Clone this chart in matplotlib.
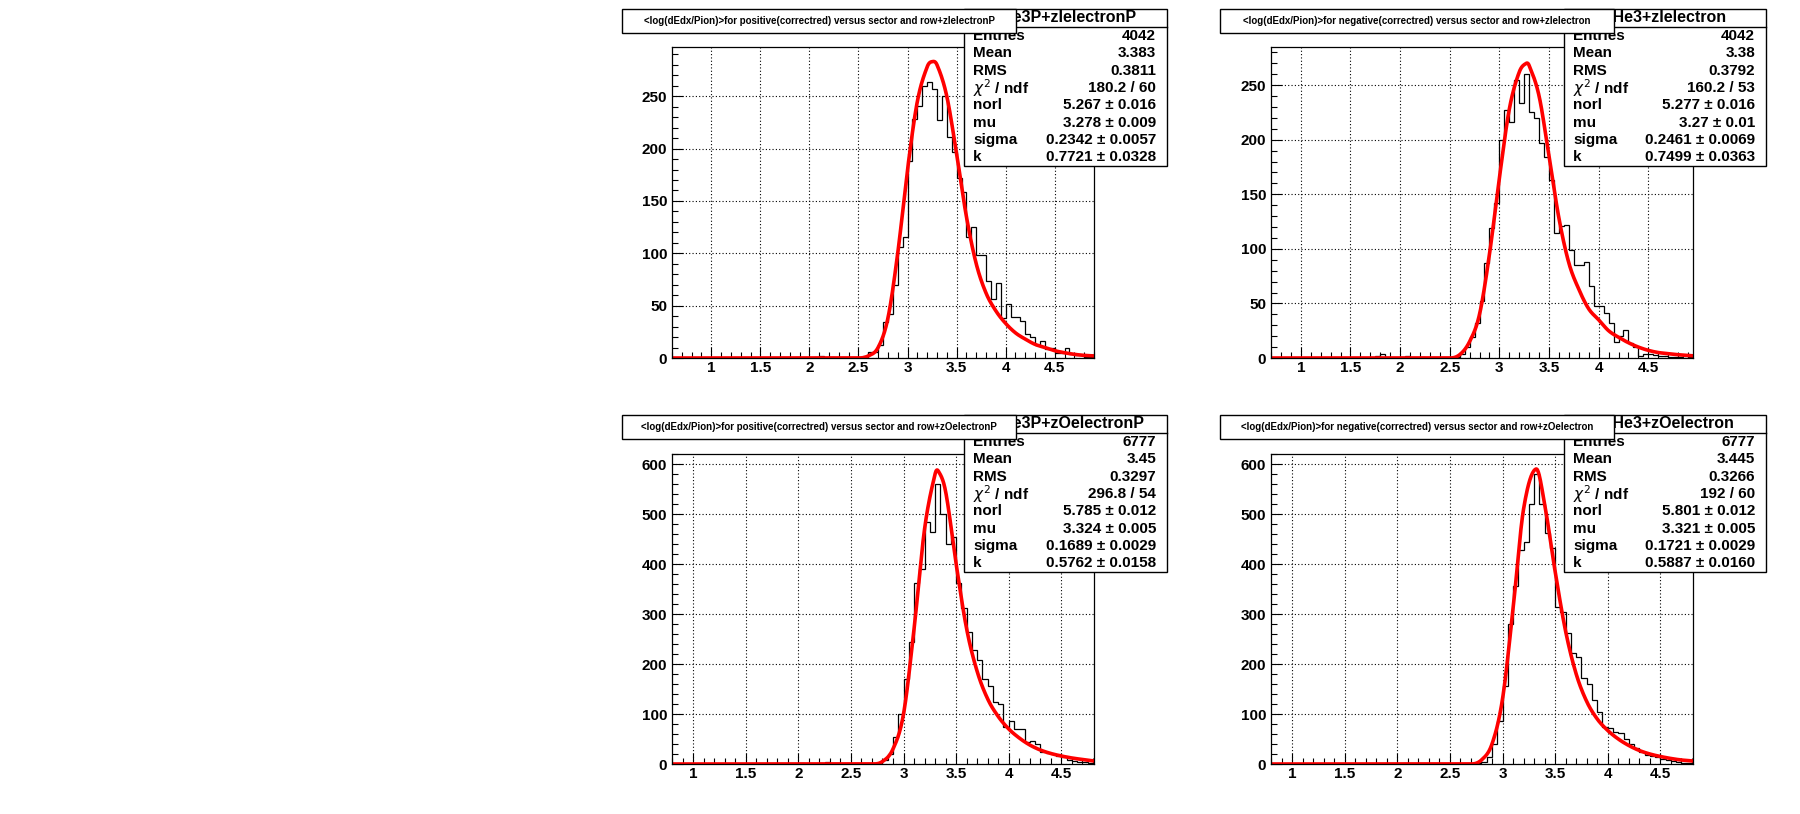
import numpy as np
import matplotlib
matplotlib.use("Agg")
import matplotlib.pyplot as plt
from matplotlib.patches import Rectangle
from matplotlib.ticker import MultipleLocator

plt.rcParams['font.family'] = ['Liberation Sans', 'DejaVu Sans']

BW = 0.05
# ---- histogram data (counts per 0.05 bin, starting at given x) ----
h1_start = 1.70
h1 = [1,1,0,1,0,0,0,1,2,0,1,0,0,0,0,0,1,2,6,6,12,34,42,70,106,116,188,228,241,260,264,257,227,250,211,197,
      172,159,116,125,98,98,74,56,72,38,52,39,39,35,23,20,12,16,9,10,5,5,10,4,3,3,1,1]
h2_start = 1.75
h2 = [2,4,1,0,0,1,2,0,0,1,0,0,0,0,0,1,1,4,10,19,32,52,87,119,142,200,227,216,255,234,260,225,220,197,184,
      163,115,121,122,99,85,85,88,66,48,48,41,32,15,20,26,14,10,2,4,4,3,2,2,1,1,1,2,1]
h3_start = 2.00
h3 = [2,1,0,1,2,4,3,2,1,1,1,0,1,1,2,2,8,20,55,100,170,245,362,390,485,465,560,500,440,455,362,312,265,228,
      208,170,157,125,120,75,87,70,70,45,47,40,25,22,20,17,15,8,7,5,5,3]
h4_start = 2.05
h4 = [2,1,0,0,0,0,0,0,0,0,0,0,0,0,2,5,15,40,87,157,280,357,428,445,520,580,520,462,433,315,305,262,222,215,
      172,160,128,105,75,72,65,62,50,40,32,25,18,17,15,10,8,6,4,3,2]

# ---- fit curves ----
f1_x = [0.6,2.5,2.6,2.7,2.8,2.9,3.0,3.1,3.2,3.25,3.3,3.4,3.5,3.6,3.7,3.8,3.9,4.0,4.1,4.2,4.3,4.4,4.5,4.6,4.7,4.8,4.9]
f1_y = [0,0,2,10,38,100,180,245,278,283,280,250,195,135,90,62,45,33,24,18,13,10,7,5,3.5,2.5,2]
f2_x = [0.7,2.5,2.6,2.7,2.8,2.9,3.0,3.1,3.2,3.27,3.3,3.4,3.5,3.6,3.7,3.8,3.9,4.0,4.1,4.2,4.3,4.4,4.5,4.6,4.7,4.8,4.95]
f2_y = [0,0,3,15,40,95,165,228,262,270,268,240,185,128,87,63,45,35,25,19,14,10,7,5,4,3,2]
f3_x = [0.8,2.7,2.8,2.9,3.0,3.1,3.2,3.3,3.33,3.4,3.5,3.6,3.7,3.8,3.9,4.0,4.1,4.2,4.3,4.4,4.5,4.6,4.7,4.81]
f3_y = [0,0,5,30,100,270,470,580,586,545,400,270,185,130,95,70,52,38,28,21,16,12,9,6]
f4_x = [0.8,2.7,2.8,2.9,3.0,3.1,3.2,3.32,3.4,3.5,3.6,3.7,3.8,3.9,4.0,4.1,4.2,4.3,4.4,4.5,4.6,4.7,4.81]
f4_y = [0,0,8,40,130,310,510,590,520,385,265,180,125,90,67,50,37,27,20,15,11,8,6]

titles = ["<log(dEdx/Pion)>for positive(correctred) versus sector and row+zIelectronP",
          "<log(dEdx/Pion)>for negative(correctred) versus sector and row+zIelectron",
          "<log(dEdx/Pion)>for positive(correctred) versus sector and row+zOelectronP",
          "<log(dEdx/Pion)>for negative(correctred) versus sector and row+zOelectron"]
stat_heads = ["He3P+zIelectronP", "zIHe3+zIelectron", "He3P+zOelectronP", "OHe3+zOelectron"]
stat_labels = ["Entries", "Mean", "RMS", r"$\chi^{2}$ / ndf", "norl", "mu", "sigma", "k"]
stats = [["4042","3.383","0.3811","180.2 / 60","5.267 \u00b1 0.016","3.278 \u00b1 0.009","0.2342 \u00b1 0.0057","0.7721 \u00b1 0.0328"],
         ["4042","3.38","0.3792","160.2 / 53","5.277 \u00b1 0.016","3.27 \u00b1 0.01","0.2461 \u00b1 0.0069","0.7499 \u00b1 0.0363"],
         ["6777","3.45","0.3297","296.8 / 54","5.785 \u00b1 0.012","3.324 \u00b1 0.005","0.1689 \u00b1 0.0029","0.5762 \u00b1 0.0158"],
         ["6777","3.445","0.3266","192 / 60","5.801 \u00b1 0.012","3.321 \u00b1 0.005","0.1721 \u00b1 0.0029","0.5887 \u00b1 0.0160"]]

W, H = 1800, 814
fig = plt.figure(figsize=(18, 8.14), dpi=100)

def fx(p): return p / W
def fy(p): return 1 - p / H

panels = [
    dict(ax=(672, 1094, 47, 358), xl=(0.6, 4.9), yl=(0, 297), ymaj=50, ymin=10, title=(622, 1016, 9, 33),
         stat=(964, 1167, 9, 166), h=(h1_start, h1), f=(f1_x, f1_y)),
    dict(ax=(1271, 1693, 47, 358), xl=(0.7, 4.95), yl=(0, 285), ymaj=50, ymin=10, title=(1220, 1614, 9, 33),
         stat=(1564, 1766, 9, 166), h=(h2_start, h2), f=(f2_x, f2_y)),
    dict(ax=(672, 1094, 454, 764), xl=(0.8, 4.81), yl=(0, 620), ymaj=100, ymin=20, title=(622, 1016, 415, 439),
         stat=(964, 1167, 415, 572), h=(h3_start, h3), f=(f3_x, f3_y)),
    dict(ax=(1271, 1693, 454, 764), xl=(0.8, 4.81), yl=(0, 620), ymaj=100, ymin=20, title=(1220, 1614, 415, 439),
         stat=(1564, 1766, 415, 572), h=(h4_start, h4), f=(f4_x, f4_y)),
]

def smooth(xs, ys, n=20):
    xs = np.asarray(xs, float); ys = np.asarray(ys, float)
    N = len(xs)
    def slope(j):
        if ys[j] == 0 and (j == 0 or ys[j-1] == 0):
            return 0.0
        a, b = max(j-1, 0), min(j+1, N-1)
        return (ys[b] - ys[a]) / (xs[b] - xs[a])
    ox, oy = [], []
    for i in range(N - 1):
        x0, x1 = xs[i], xs[i + 1]
        y0, y1 = ys[i], ys[i + 1]
        m0, m1 = slope(i), slope(i + 1)
        if y0 == 0 and y1 == 0:
            m0 = m1 = 0
        t = np.linspace(0, 1, n, endpoint=False)
        h = x1 - x0
        h00 = 2*t**3 - 3*t**2 + 1; h10 = t**3 - 2*t**2 + t
        h01 = -2*t**3 + 3*t**2; h11 = t**3 - t**2
        ox.extend(x0 + t*h)
        oy.extend(h00*y0 + h10*h*m0 + h01*y1 + h11*h*m1)
    ox.append(xs[-1]); oy.append(ys[-1])
    return np.array(ox), np.maximum(np.array(oy), 0)

for k, p in enumerate(panels):
    l, r, t, b = p['ax']
    ax = fig.add_axes([fx(l), fy(b), fx(r) - fx(l), (b - t) / H])
    start, vals = p['h']
    edges = start + BW * np.arange(len(vals) + 1)
    ax.stairs(vals, edges, color='black', linewidth=0.9)
    cx, cy = smooth(*p['f'])
    ax.plot(cx, cy, color='#ff0000', linewidth=2.6, solid_capstyle='round')
    ax.set_xlim(*p['xl']); ax.set_ylim(*p['yl'])
    ax.xaxis.set_major_locator(MultipleLocator(0.5))
    ax.xaxis.set_minor_locator(MultipleLocator(0.1))
    ax.yaxis.set_major_locator(MultipleLocator(p['ymaj']))
    ax.yaxis.set_minor_locator(MultipleLocator(p['ymin']))
    ax.tick_params(which='both', direction='in', top=False, right=False, labelsize=11)
    ax.tick_params(which='major', length=8, width=0.8)
    ax.tick_params(which='minor', length=4, width=0.8)
    ax.tick_params(axis='x', pad=2)
    ax.xaxis.set_major_formatter(matplotlib.ticker.FuncFormatter(lambda v, _: f"{v:g}"))
    for lab in ax.get_xticklabels() + ax.get_yticklabels():
        lab.set_fontweight('bold')
    ax.grid(True, which='major', linestyle=(0, (1, 2)), color='black', linewidth=0.8)
    for s in ax.spines.values():
        s.set_linewidth(0.9)

    # stats box
    sl, sr, st, sb = p['stat']
    fig.patches.append(Rectangle((fx(sl), fy(sb)), fx(sr) - fx(sl), (sb - st) / H, transform=fig.transFigure,
                                 facecolor='white', edgecolor='black', linewidth=1.0, zorder=5))
    fig.lines.append(plt.Line2D([fx(sl), fx(sr)], [fy(st + 18), fy(st + 18)], transform=fig.transFigure,
                                color='black', linewidth=1.0, zorder=6))
    tl, tr, tt, tb = p['title']
    fig.text(fx(tr - 14), fy(st + 8.5), stat_heads[k], ha='left', va='center', fontsize=11.5,
             fontweight='bold', zorder=7)
    rowh = (sb - st - 18) / 8.0
    for i, (lab, val) in enumerate(zip(stat_labels, stats[k])):
        yy = st + 19 + rowh * (i + 0.45)
        fig.text(fx(sl + 9), fy(yy), lab, ha='left', va='center', fontsize=11, fontweight='bold', zorder=7)
        fig.text(fx(sr - 11), fy(yy), val, ha='right', va='center', fontsize=11, fontweight='bold', zorder=7)
    # title box
    fig.patches.append(Rectangle((fx(tl), fy(tb)), fx(tr) - fx(tl), (tb - tt) / H, transform=fig.transFigure,
                                 facecolor='white', edgecolor='black', linewidth=1.0, zorder=8))
    fig.text(fx((tl + tr) / 2), fy((tt + tb) / 2), titles[k], ha='center', va='center', fontsize=7,
             fontweight='semibold', zorder=9)

fig.savefig("out.png", dpi=100)
